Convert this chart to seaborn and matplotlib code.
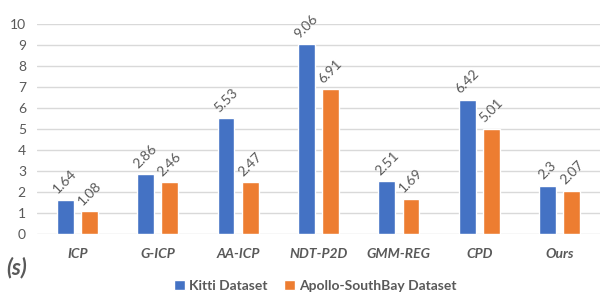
import matplotlib
matplotlib.use("Agg")
import matplotlib.pyplot as plt
import seaborn as sns
import pandas as pd

categories = ["ICP", "G-ICP", "AA-ICP", "NDT-P2D", "GMM-REG", "CPD", "Ours"]
kitti = [1.64, 2.86, 5.53, 9.06, 2.51, 6.42, 2.3]
apollo = [1.08, 2.46, 2.47, 6.91, 1.69, 5.01, 2.07]
series_names = ["Kitti Dataset", "Apollo-SouthBay Dataset"]
colors = ["#4472C4", "#ED7D31"]

df = pd.DataFrame({
    "method": categories * 2,
    "value": kitti + apollo,
    "series": [series_names[0]] * len(categories) + [series_names[1]] * len(categories),
})

sns.set_theme(style="white")
plt.rcParams["font.family"] = ["Lato", "DejaVu Sans"]
txt = "#595959"

fig = plt.figure(figsize=(6.1, 2.94), dpi=100)
ax = fig.add_axes([0.0607, 0.204, 0.9229, 0.7127])
sns.barplot(data=df, x="method", y="value", hue="series", palette=colors,
            width=0.6, gap=0.3, ax=ax, order=categories, hue_order=series_names,
            saturation=1, legend=True)

ax.set_ylim(0, 10)
ax.set_yticks(range(0, 11))
ax.yaxis.grid(True, color="#D9D9D9", linewidth=1)
ax.set_axisbelow(True)
for s in ax.spines.values():
    s.set_visible(False)
ax.set_xlabel("")
ax.set_ylabel("")
ax.tick_params(axis="y", colors=txt, labelsize=10, length=0, pad=8)
ax.tick_params(axis="x", colors=txt, labelsize=10, length=0, pad=10)
for lab in ax.get_xticklabels():
    lab.set_fontweight("bold")
    lab.set_fontstyle("italic")

for cont in ax.containers:
    for bar in cont:
        h = bar.get_height()
        ax.annotate(f"{h:g}", (bar.get_x() + bar.get_width() / 2, h),
                    xytext=(0, 3), textcoords="offset points",
                    ha="center", va="bottom", rotation=45,
                    fontsize=10, color=txt)

handles, labels = ax.get_legend_handles_labels()
ax.get_legend().remove()
leg = fig.legend(handles, labels, loc="center", bbox_to_anchor=(0.517, 0.028),
                 ncol=2, frameon=False, fontsize=10, handlelength=0.8,
                 handleheight=0.8, handletextpad=0.3, columnspacing=1.2)
for t in leg.get_texts():
    t.set_color(txt)
    t.set_fontweight("bold")

fig.text(0.01, 0.09, "(s)", fontsize=16, fontweight="bold", fontstyle="italic",
         color=txt, ha="left", va="center")

fig.savefig("out.png", dpi=100)
